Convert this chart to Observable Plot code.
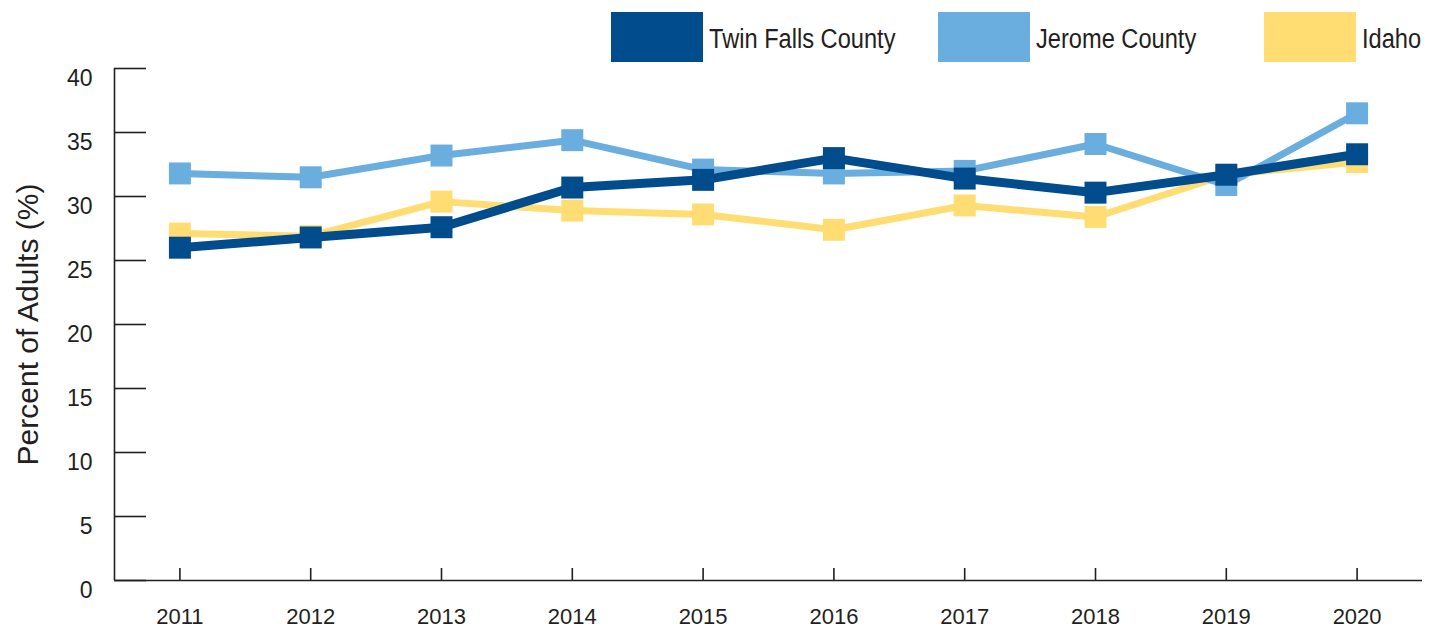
<!DOCTYPE html>
<html><head><meta charset="utf-8">
<script src="https://cdn.jsdelivr.net/npm/d3@7"></script>
<script src="https://cdn.jsdelivr.net/npm/@observablehq/plot@0.6"></script>
<style>
body{margin:0;background:#fff;font-family:"Liberation Sans",Arial,sans-serif;}
#wrap{position:relative;width:1439px;height:629px;}
#legend{position:absolute;top:0;left:0;width:1439px;height:70px;}
.item{position:absolute;top:12px;height:50px;display:flex;align-items:center;}
.sw{width:92px;height:50px;flex:none;}
.lab{font-size:27px;color:#231F20;transform:scaleX(0.875);transform-origin:left center;margin-left:6px;white-space:nowrap;margin-top:5px;}
g[aria-label="x-axis tick label"]{font-size:22px !important;}
g[aria-label="y-axis tick label"]{font-size:23px !important;}
</style></head><body><div id="wrap"><div id="chart"></div><div id="legend"></div></div>
<script>
const years = [2011, 2012, 2013, 2014, 2015, 2016, 2017, 2018, 2019, 2020];
const twinFalls = [26.0, 26.8, 27.6, 30.7, 31.3, 33.0, 31.4, 30.3, 31.7, 33.3];
const jerome = [31.8, 31.5, 33.2, 34.4, 32.1, 31.8, 32.0, 34.1, 30.9, 36.5];
const idaho = [27.1, 26.9, 29.6, 28.9, 28.6, 27.4, 29.3, 28.4, 31.7, 32.7];
const seriesNames = ["Twin Falls County", "Jerome County", "Idaho"];
const seriesColors = ["#004C8C", "#6AADDF", "#FFDD72"];
const yTicks = [0, 5, 10, 15, 20, 25, 30, 35, 40];
const yTitle = "Percent of Adults (%)";

const seriesValues = [twinFalls, jerome, idaho];
const tables = seriesValues.map((vals, s) => years.map((yr, i) => ({year: yr, value: vals[i], series: seriesNames[s]})));
const widths = [9, 7, 7];
const drawOrder = [2, 1, 0];

const ink = "#231F20";
const marks = [];
for (const s of drawOrder) {
  marks.push(Plot.line(tables[s], {x: "year", y: "value", stroke: seriesColors[s], strokeWidth: widths[s]}));
  marks.push(Plot.dot(tables[s], {x: "year", y: "value", symbol: "square", r: 12.4, fill: seriesColors[s], stroke: "none"}));
}

const chart = Plot.plot({
  width: 1439, height: 629,
  marginLeft: 114, marginRight: 17, marginTop: 68, marginBottom: 49,
  style: {fontFamily: '"Liberation Sans", Arial, sans-serif', fontSize: "22px", color: ink, background: "#fff"},
  x: {type: "linear", domain: [years[0] - 0.5, years[years.length - 1] + 0.5]},
  y: {domain: [yTicks[0], yTicks[yTicks.length - 1]]},
  marks: [
    ...marks,
    Plot.ruleY([0], {stroke: ink, strokeWidth: 1.6}),
    Plot.ruleX([years[0] - 0.5], {y1: yTicks[0], y2: yTicks[yTicks.length - 1], stroke: ink, strokeWidth: 1.6}),
    Plot.axisX(years, {tickSize: -12, tickPadding: 40, tickFormat: d => String(d), label: null, stroke: ink, strokeWidth: 1.6, fontSize: 22, fill: ink}),
    Plot.axisY(yTicks, {tickSize: -32, tickPadding: 0, tickFormat: () => "", label: null, stroke: ink, strokeWidth: 1.6}),
    Plot.axisY(yTicks, {tickSize: 0, tickPadding: 22, dy: 10, label: null, stroke: "none", fontSize: 23, fill: ink}),
    Plot.text([yTitle], {frameAnchor: "left", textAnchor: "middle", rotate: -90, dx: -86, fontSize: 30, fill: ink})
  ]
});
document.getElementById("chart").appendChild(chart);

const legendX = [611, 938, 1264];
const legend = document.getElementById("legend");
seriesNames.forEach((name, i) => {
  const item = document.createElement("div");
  item.className = "item";
  item.style.left = legendX[i] + "px";
  const sw = document.createElement("div");
  sw.className = "sw";
  sw.style.background = seriesColors[i];
  const lab = document.createElement("span");
  lab.className = "lab";
  lab.textContent = name;
  item.appendChild(sw);
  item.appendChild(lab);
  legend.appendChild(item);
});
</script></body></html>
